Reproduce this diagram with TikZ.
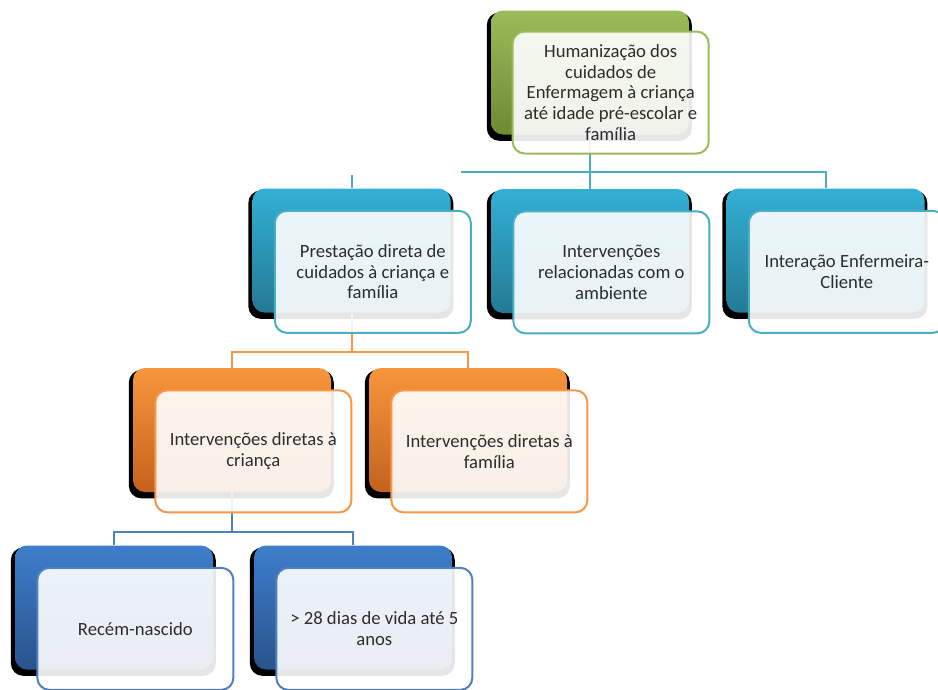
\documentclass[tikz,border=0pt]{standalone}
\usepackage{fontspec}
\setmainfont{Carlito}
\usepackage{xcolor}
\usetikzlibrary{shadows}

\definecolor{grnTop}{RGB}{155,187,89}
\definecolor{grnBot}{RGB}{110,138,50}
\definecolor{grnLine}{RGB}{155,187,89}
\definecolor{tealTop}{RGB}{50,176,213}
\definecolor{tealBot}{RGB}{36,122,148}
\definecolor{tealLine}{RGB}{75,172,198}
\definecolor{orgTop}{RGB}{247,150,60}
\definecolor{orgBot}{RGB}{196,98,30}
\definecolor{orgLine}{RGB}{247,150,70}
\definecolor{bluTop}{RGB}{62,126,204}
\definecolor{bluBot}{RGB}{40,84,140}
\definecolor{bluLine}{RGB}{79,129,189}
\definecolor{txtgray}{RGB}{45,45,45}

\begin{document}
\begin{tikzpicture}[x=0.75pt,y=-0.75pt,
  back/.style={rounded corners=9pt,minimum width=148.5pt,minimum height=93pt,inner sep=0pt,
    general shadow={fill=black,shadow scale=1.035,shadow xshift=-0.5pt,shadow yshift=-3pt},
    top color=#1Top,bottom color=#1Bot},
  front/.style={rounded corners=9pt,draw=#1Line,line width=1.5pt,fill=white,fill opacity=0.9,
    text opacity=1,minimum width=147pt,minimum height=91.5pt,align=center,text=txtgray,
    font=\fontsize{14}{15.5}\selectfont},
  link/.style={draw=#1Line,line width=1.5pt}]
\useasboundingbox (0,0) rectangle (938,689);
\clip (0,0) rectangle (938,689);

% back boxes
\node[back=grn] (root) at (590,72.5) {};
\node[back=teal] (prest) at (351.5,250.5) {};
\node[back=teal] (amb) at (590,251) {};
\node[back=teal] (inter) at (825.5,250.5) {};
\node[back=org] (crianca) at (232,430) {};
\node[back=org] (familia) at (468,430) {};
\node[back=blu] (recem) at (114,607.5) {};
\node[back=blu] (dias) at (353,607.5) {};

% connectors
\coordinate (rootcut) at (461,172);
\coordinate (prestcut) at (351.5,175);
\draw[link=teal] (root.south) -- (amb.north);
\draw[link=teal] (rootcut) -| (inter.north);
\draw[link=teal] (prestcut) -- (prest.north);
\draw[link=org] (prest.south) -- ++(0,39.5) -| (crianca.north);
\draw[link=org] (prest.south) -- ++(0,39.5) -| (familia.north);
\draw[link=blu] (crianca.south) -- ++(0,40) -| (recem.north);
\draw[link=blu] (crianca.south) -- ++(0,40) -| (dias.north);

% front boxes
\node[front=grn] (rootF) at ([xshift=15.5pt,yshift=-15pt]root) {Humanização dos\\cuidados de\\Enfermagem à criança\\até idade pré-escolar e\\família};
\node[front=teal] (prestF) at ([xshift=16pt,yshift=-16pt]prest) {Prestação direta de\\cuidados à criança e\\família};
\node[front=teal] (ambF) at ([xshift=16pt,yshift=-16pt]amb) {Intervenções\\relacionadas com o\\ambiente};
\node[front=teal] (interF) at ([xshift=16pt,yshift=-16pt]inter) {Interação Enfermeira-\\Cliente};
\node[front=org] (criancaF) at ([xshift=16pt,yshift=-16pt]crianca) {Intervenções diretas à\\criança};
\node[front=org] (familiaF) at ([xshift=16pt,yshift=-16pt]familia) {Intervenções diretas à\\família};
\node[front=blu] (recemF) at ([xshift=16pt,yshift=-16pt]recem) {Recém-nascido};
\node[front=blu] (diasF) at ([xshift=16pt,yshift=-16pt]dias) {> 28 dias de vida até 5\\anos};
\end{tikzpicture}
\end{document}
